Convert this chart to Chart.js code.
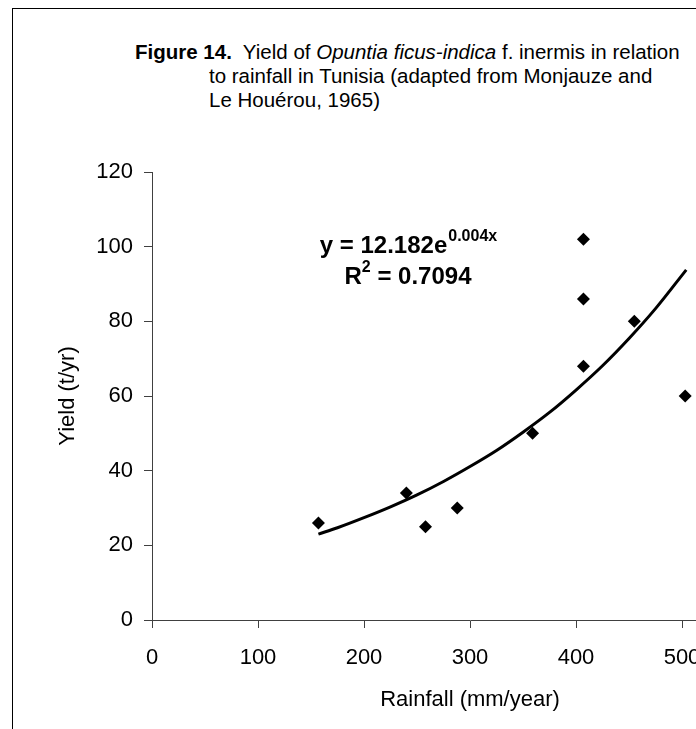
<!DOCTYPE html>
<html>
<head>
<meta charset="utf-8">
<script src="https://cdn.jsdelivr.net/npm/chart.js@4.4.1/dist/chart.umd.min.js"></script>
<style>
  html, body { margin: 0; padding: 0; background: #fff; width: 696px; height: 729px; overflow: hidden; }
  #frame { position: absolute; left: 12px; top: 8px; width: 900px; height: 900px; border-left: 1px solid #000; border-top: 1px solid #000; }
  #wrap { position: absolute; left: 0; top: 0; width: 830px; height: 729px; }
  .cap { position: absolute; font-family: "Liberation Sans", Arial, sans-serif; font-size: 20.5px; color: #000; white-space: pre; line-height: 24px; }
</style>
</head>
<body>
<div id="frame"></div>
<div class="cap" style="left:135px; top:40px;"><b>Figure 14.</b>  Yield of <i>Opuntia ficus-indica</i> f. inermis in relation</div>
<div class="cap" style="left:209px; top:64px;">to rainfall in Tunisia (adapted from Monjauze and</div>
<div class="cap" style="left:209px; top:88px;">Le Houérou, 1965)</div>
<div id="wrap"><canvas id="c" width="830" height="729"></canvas></div>
<script>
const rainfall = [157, 240, 258, 288, 359, 407, 407, 407, 455, 503];
const yieldTyr = [26, 34, 25, 30, 50, 68, 86, 102, 80, 60];
// Exponential trendline as drawn (y = 12.182e^0.004x)
const trendX = [157, 175, 200, 225, 250, 275, 300, 325, 350, 375, 400, 425, 450, 475, 504];
const trendY = [23.0, 24.7, 27.4, 30.3, 33.5, 37.1, 41.1, 45.4, 50.3, 55.6, 61.6, 68.1, 75.4, 83.4, 93.8];
// Axis ticks
const xTicks = [0, 100, 200, 300, 400, 500, 600];
const yTicks = [0, 20, 40, 60, 80, 100, 120];
const eqLine1 = ["y = 12.182e", "0.004x"];
const eqLine2 = ["R", "2", " = 0.7094"];

const FONT = "'Liberation Sans', Arial, sans-serif";

const equationPlugin = {
  id: 'equation',
  afterDatasetsDraw(chart) {
    const ctx = chart.ctx;
    ctx.save();
    ctx.fillStyle = '#000';
    ctx.textBaseline = 'alphabetic';
    const big = "bold 24px " + FONT, small = "bold 16px " + FONT;
    // line 1
    ctx.font = big; const w1a = ctx.measureText(eqLine1[0]).width;
    ctx.font = small; const w1b = ctx.measureText(eqLine1[1]).width;
    let cx = 408, base1 = 253;
    let x0 = cx - (w1a + w1b) / 2;
    ctx.font = big; ctx.fillText(eqLine1[0], x0, base1);
    ctx.font = small; ctx.fillText(eqLine1[1], x0 + w1a + 1, base1 - 12);
    // line 2
    ctx.font = big; const wa = ctx.measureText(eqLine2[0]).width;
    ctx.font = small; const wb = ctx.measureText(eqLine2[1]).width;
    ctx.font = big; const wc = ctx.measureText(eqLine2[2]).width;
    let base2 = 284;
    let x1 = cx - (wa + wb + wc) / 2;
    ctx.font = big; ctx.fillText(eqLine2[0], x1, base2);
    ctx.font = small; ctx.fillText(eqLine2[1], x1 + wa, base2 - 12);
    ctx.font = big; ctx.fillText(eqLine2[2], x1 + wa + wb, base2);
    ctx.restore();
  }
};

new Chart(document.getElementById('c'), {
  type: 'scatter',
  data: {
    datasets: [
      {
        label: 'Trend',
        type: 'line',
        data: trendX.map((x, i) => ({ x, y: trendY[i] })),
        borderColor: '#000',
        borderWidth: 3,
        pointRadius: 0,
        fill: false,
        cubicInterpolationMode: 'monotone',
        order: 2
      },
      {
        label: 'Yield',
        data: rainfall.map((x, i) => ({ x, y: yieldTyr[i] })),
        pointStyle: 'rectRot',
        pointRadius: 6.5,
        backgroundColor: '#000',
        borderColor: '#000',
        borderWidth: 0,
        order: 1
      }
    ]
  },
  options: {
    responsive: false,
    animation: false,
    devicePixelRatio: 1,
    layout: { padding: { top: 172, left: 0, right: 42, bottom: 0 } },
    plugins: { legend: { display: false }, tooltip: { enabled: false }, title: { display: false } },
    scales: {
      x: {
        type: 'linear', min: 0, max: 600,
        afterBuildTicks: s => { s.ticks = xTicks.map(v => ({ value: v })); },
        afterFit: s => { s.height = 109; },
        ticks: { color: '#000', font: { family: FONT, size: 22 }, padding: 17, maxRotation: 0 },
        grid: { drawOnChartArea: false, drawTicks: true, tickLength: 8, color: '#404040', lineWidth: 1 },
        border: { color: '#404040', width: 1 },
        title: { display: true, text: 'Rainfall (mm/year)', color: '#000', font: { family: FONT, size: 22 }, padding: { top: 0, bottom: 16 } }
      },
      y: {
        type: 'linear', min: 0, max: 120,
        afterBuildTicks: s => { s.ticks = yTicks.map(v => ({ value: v })); },
        afterFit: s => { s.width = 152; },
        ticks: { color: '#000', font: { family: FONT, size: 22 }, padding: 11 },
        grid: { drawOnChartArea: false, drawTicks: true, tickLength: 8, color: '#404040', lineWidth: 1 },
        border: { color: '#404040', width: 1 },
        title: { display: true, text: 'Yield (t/yr)', color: '#000', font: { family: FONT, size: 22 }, padding: { top: 55, bottom: 0 } }
      }
    }
  },
  plugins: [equationPlugin]
});
</script>
</body>
</html>
